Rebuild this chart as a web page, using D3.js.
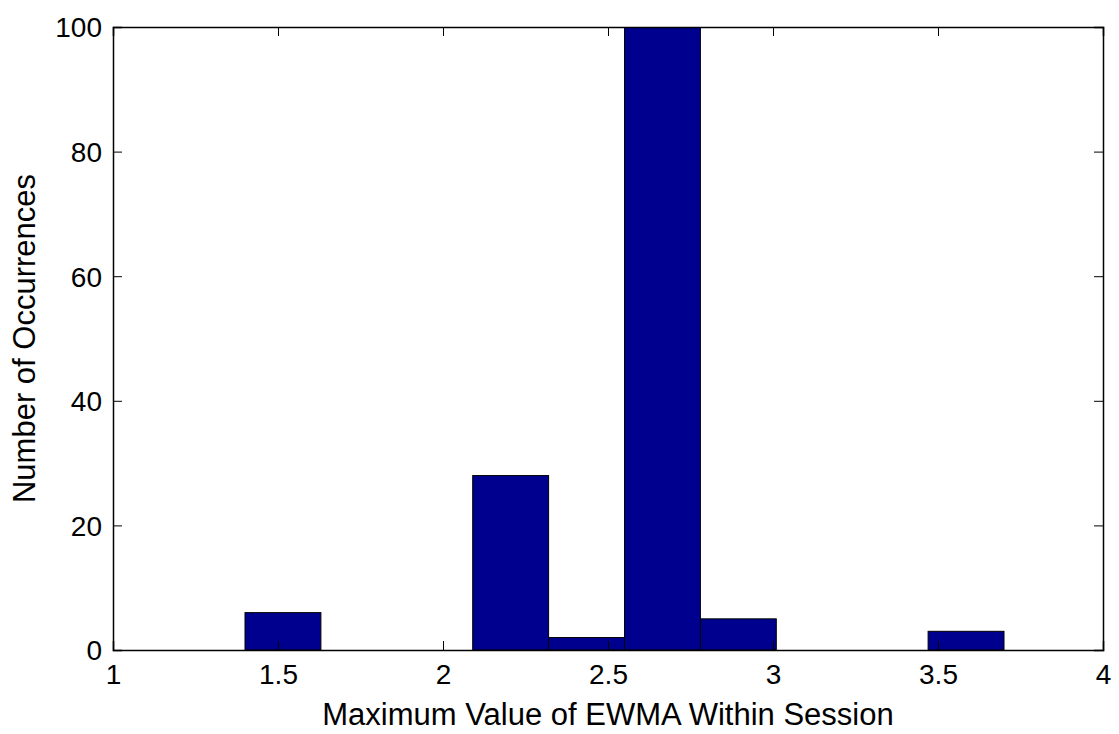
<!DOCTYPE html>
<html>
<head>
<meta charset="utf-8">
<script src="https://cdn.jsdelivr.net/npm/d3@7/dist/d3.min.js"></script>
<style>
  body { margin: 0; background: #fff; }
  text { font-family: "Liberation Sans", Arial, sans-serif; fill: #000; }
</style>
</head>
<body>
<div id="chart"></div>
<script>
// histogram bins (centres) and counts
var binCenters = [1.515, 1.745, 1.975, 2.205, 2.435, 2.665, 2.895, 3.125, 3.355, 3.585];
var binWidth = 0.23;
var counts = [6, 0, 0, 28, 2, 100, 5, 0, 0, 3];
var xTicks = [1, 1.5, 2, 2.5, 3, 3.5, 4];
var yTicks = [0, 20, 40, 60, 80, 100];

var margin = { top: 27, right: 16, bottom: 84, left: 113 },
    width = 1119 - margin.left - margin.right,
    height = 734 - margin.top - margin.bottom;

var x = d3.scaleLinear().domain([1, 4]).range([0, width]);
var y = d3.scaleLinear().domain([0, 100]).range([height, 0]);

var svg = d3.select("#chart").append("svg")
    .attr("width", 1119)
    .attr("height", 734)
    .append("g")
    .attr("transform", "translate(" + margin.left + "," + margin.top + ")");

svg.append("defs").append("clipPath").attr("id", "clip")
    .append("rect").attr("width", width).attr("height", height);

// bars
svg.append("g").attr("clip-path", "url(#clip)")
    .selectAll(".bar")
    .data(binCenters)
    .enter().append("rect")
    .attr("class", "bar")
    .attr("x", function (d) { return x(d - binWidth / 2); })
    .attr("width", function (d) { return x(d + binWidth / 2) - x(d - binWidth / 2); })
    .attr("y", function (d, i) { return y(counts[i]); })
    .attr("height", function (d, i) { return height - y(counts[i]); })
    .attr("fill", "#00008f")
    .attr("stroke", "#000")
    .attr("stroke-width", 1);

// x axis (bottom + top ticks)
var xAxis = svg.append("g")
    .attr("transform", "translate(0," + height + ")")
    .call(d3.axisBottom(x).tickValues(xTicks).tickSize(-9)
        .tickFormat(function (d) { return d; }));
svg.append("g")
    .call(d3.axisTop(x).tickValues(xTicks).tickSize(-9).tickFormat(""));

// y axis (left + right ticks)
var yAxis = svg.append("g")
    .call(d3.axisLeft(y).tickValues(yTicks).tickSize(-9).tickPadding(11));
svg.append("g")
    .attr("transform", "translate(" + width + ",0)")
    .call(d3.axisRight(y).tickValues(yTicks).tickSize(-9).tickFormat(""));

svg.selectAll(".domain").attr("stroke", "#000").attr("stroke-width", 1.5);
svg.selectAll(".tick line").attr("stroke", "#000");
svg.selectAll(".tick text").style("font-size", "28px");
xAxis.selectAll(".tick text").attr("dy", null).attr("y", 34);
yAxis.selectAll(".tick text").attr("x", -11).attr("dy", "0.35em");

// axis labels
svg.append("text")
    .attr("x", width / 2)
    .attr("y", height + 75)
    .attr("text-anchor", "middle")
    .style("font-size", "31px")
    .text("Maximum Value of EWMA Within Session");

svg.append("text")
    .attr("transform", "rotate(-90)")
    .attr("x", -height / 2)
    .attr("y", -78)
    .attr("text-anchor", "middle")
    .style("font-size", "31px")
    .text("Number of Occurrences");
</script>
</body>
</html>
